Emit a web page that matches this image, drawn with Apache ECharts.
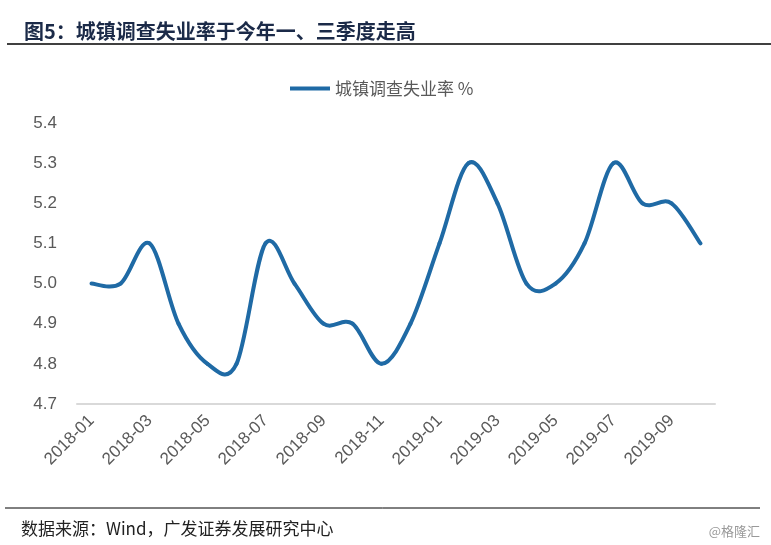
<!DOCTYPE html>
<html>
<head>
<meta charset="utf-8">
<script src="https://cdn.jsdelivr.net/npm/echarts@6/dist/echarts.min.js"></script>
<style>
html, body { margin: 0; padding: 0; background: #fff; }
#main { width: 771px; height: 545px; }
</style>
</head>
<body>
<div id="main"></div>
<script>
// 月份
var months = ['2018-01','2018-02','2018-03','2018-04','2018-05','2018-06','2018-07','2018-08','2018-09','2018-10','2018-11','2018-12',
              '2019-01','2019-02','2019-03','2019-04','2019-05','2019-06','2019-07','2019-08','2019-09','2019-10'];
// 城镇调查失业率 %
var rates = [5.0, 5.0, 5.1, 4.9, 4.8, 4.8, 5.1, 5.0, 4.9, 4.9, 4.8, 4.9,
             5.1, 5.3, 5.2, 5.0, 5.0, 5.1, 5.3, 5.2, 5.2, 5.1];
var seriesName = '城镇调查失业率 %';

var cjk = '"Noto Sans CJK SC", "Liberation Sans", sans-serif';
var lineColor = '#1f6aa5';
var myChart = echarts.init(document.getElementById('main'));

// Excel 式平滑曲线：每段用相邻点算控制点（允许越过数据点）
function renderSmooth(params, api) {
    var i = params.dataIndexInside;
    var n = params.dataInsideLength;
    if (i >= n - 1) return null;
    function pt(k) {
        k = Math.max(0, Math.min(n - 1, k));
        return api.coord([api.value(0, k), api.value(1, k)]);
    }
    var p0 = pt(i - 1), p1 = pt(i), p2 = pt(i + 1), p3 = pt(i + 2);
    return {
        type: 'bezierCurve',
        shape: {
            x1: p1[0], y1: p1[1],
            x2: p2[0], y2: p2[1],
            cpx1: p1[0] + (p2[0] - p0[0]) / 6, cpy1: p1[1] + (p2[1] - p0[1]) / 6,
            cpx2: p2[0] - (p3[0] - p1[0]) / 6, cpy2: p2[1] - (p3[1] - p1[1]) / 6
        },
        style: { stroke: lineColor, lineWidth: 4, fill: null, lineCap: 'round' }
    };
}

var option = {
    animation: false,
    textStyle: { fontFamily: cjk },
    title: [{
        text: '图5：城镇调查失业率于今年一、三季度走高',
        left: 19,
        top: 16,
        textStyle: { fontSize: 20, fontWeight: 'bold', color: '#1b2a48', fontFamily: cjk }
    }, {
        text: '数据来源：Wind，广发证券发展研究中心',
        left: 16,
        top: 515,
        textStyle: { fontSize: 17, fontWeight: 'normal', color: '#222', fontFamily: cjk }
    }, {
        text: '@格隆汇',
        right: 6,
        top: 520,
        textStyle: { fontSize: 13, fontWeight: 'normal', color: '#999', fontFamily: cjk }
    }],
    legend: {
        top: 75,
        left: 285,
        itemWidth: 40,
        itemHeight: 4,
        itemGap: 5,
        icon: 'rect',
        textStyle: { fontSize: 17, color: '#595959', fontFamily: cjk },
        data: [{ name: seriesName, icon: 'rect', itemStyle: { color: lineColor } }]
    },
    graphic: [{
        type: 'line',
        shape: { x1: 7, y1: 44, x2: 771, y2: 44 },
        style: { stroke: '#000', lineWidth: 1.5 }
    }, {
        type: 'line',
        shape: { x1: 5, y1: 508, x2: 760, y2: 508 },
        style: { stroke: '#000', lineWidth: 1 }
    }],
    grid: {
        left: 77,
        right: 56,
        top: 123,
        bottom: 141
    },
    xAxis: {
        type: 'category',
        data: months,
        boundaryGap: true,
        axisLine: { lineStyle: { color: '#d9d9d9', width: 2 } },
        axisTick: { show: false },
        axisLabel: {
            interval: 1,
            rotate: 45,
            fontSize: 17,
            color: '#595959',
            margin: 14,
            fontFamily: '"Liberation Sans", Arial, sans-serif'
        }
    },
    yAxis: {
        type: 'value',
        min: 4.7,
        max: 5.4,
        interval: 0.1,
        splitLine: { show: false },
        axisLine: { show: false },
        axisTick: { show: false },
        axisLabel: {
            fontSize: 17,
            color: '#595959',
            margin: 20,
            formatter: function (v) { return v.toFixed(1); },
            fontFamily: '"Liberation Sans", Arial, sans-serif'
        }
    },
    series: [{
        name: seriesName,
        type: 'custom',
        renderItem: renderSmooth,
        data: rates.map(function (v, i) { return [i, v]; }),
        encode: { x: 0, y: 1 },
        itemStyle: { color: lineColor },
        clip: false
    }]
};

myChart.setOption(option);
</script>
</body>
</html>
